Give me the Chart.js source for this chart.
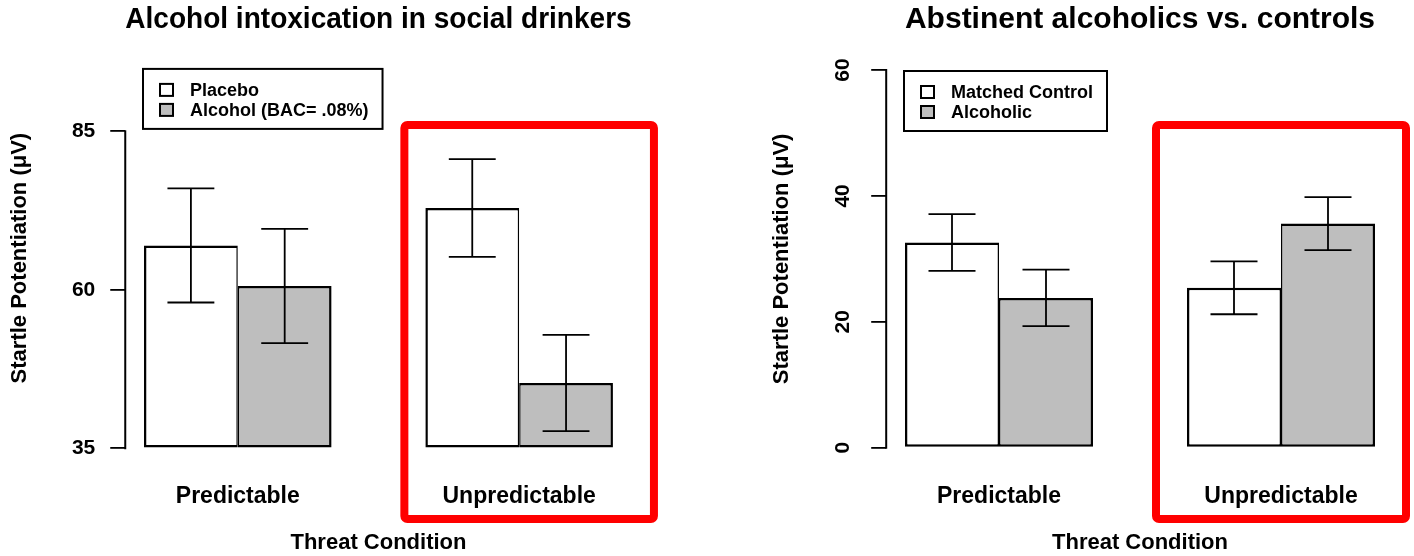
<!DOCTYPE html>
<html><head><meta charset="utf-8">
<script src="https://cdn.jsdelivr.net/npm/chart.js@4.4.1/dist/chart.umd.min.js"></script>
<style>
html,body{margin:0;padding:0;background:#fff;width:1414px;height:556px;overflow:hidden}
.wrap{position:absolute;top:0;width:707px;height:556px}
canvas{display:block}
</style></head><body>
<div class="wrap" style="left:0"><canvas id="c1" width="707" height="556"></canvas></div>
<div class="wrap" style="left:707px"><canvas id="c2" width="707" height="556"></canvas></div>
<script>
// ---------- data ----------
const categories = ['Predictable', 'Unpredictable'];
const xTitle = 'Threat Condition';
const yTitle = 'Startle Potentiation (\u03BCV)';

// Left panel
const titleLeft = 'Alcohol intoxication in social drinkers';
const seriesLeft = ['Placebo', 'Alcohol (BAC= .08%)'];
const placeboMean = [67.0, 72.9];
const placeboErr = [9.0, 7.7];
const alcoholMean = [60.6, 45.3];
const alcoholErr = [9.0, 7.6];
const yTicksLeft = [35, 60, 85];
const yRangeLeft = [35, 95];

// Right panel
const titleRight = 'Abstinent alcoholics vs. controls';
const seriesRight = ['Matched Control', 'Alcoholic'];
const controlMean = [32.6, 25.4];
const controlErr = [4.5, 4.2];
const alcoholicMean = [23.8, 35.6];
const alcoholicErr = [4.5, 4.2];
const yTicksRight = [0, 20, 40, 60];
const yRangeRight = [0, 60];

// ---------- style ----------
const FAM = '"Liberation Sans", Arial, Helvetica, sans-serif';
Chart.defaults.font.family = FAM;
Chart.defaults.color = '#000';
const fillColors = ['#ffffff', '#bebebe'];

const decor = {
  id: 'decor',
  afterDatasetsDraw(chart, args, opts) {
    const ctx = chart.ctx;
    const y = chart.scales.y;
    ctx.save();
    ctx.strokeStyle = '#000';
    // error bars
    ctx.lineWidth = 1.8;
    chart.data.datasets.forEach((ds, di) => {
      const meta = chart.getDatasetMeta(di);
      meta.data.forEach((bar, i) => {
        const v = ds.data[i].y, e = opts.errors[di][i];
        const yt = y.getPixelForValue(v + e), yb = y.getPixelForValue(v - e);
        const half = bar.width / 4;
        ctx.beginPath();
        ctx.moveTo(bar.x, yt); ctx.lineTo(bar.x, yb);
        ctx.moveTo(bar.x - half, yt); ctx.lineTo(bar.x + half, yt);
        ctx.moveTo(bar.x - half, yb); ctx.lineTo(bar.x + half, yb);
        ctx.stroke();
      });
    });
    // y axis line spanning first..last tick
    const t = y.ticks;
    ctx.lineWidth = 2;
    ctx.beginPath();
    ctx.moveTo(y.right, y.getPixelForValue(t[0].value) + 1);
    ctx.lineTo(y.right, y.getPixelForValue(t[t.length - 1].value) - 1);
    ctx.stroke();
    // legend box
    const first = chart.getDatasetMeta(0).data[0];
    const lx = first.x - first.width / 2 - 1;
    const ly = chart.chartArea.top + opts.legendTop;
    ctx.font = 'bold 18px ' + FAM;
    const tw = Math.max(...chart.data.datasets.map(d => ctx.measureText(d.label).width));
    const w = 47 + tw + 14, h = 60;
    ctx.lineWidth = 2;
    ctx.fillStyle = '#fff';
    ctx.fillRect(lx, ly, w, h);
    ctx.strokeRect(lx, ly, w, h);
    chart.data.datasets.forEach((ds, di) => {
      const cy = ly + 21 + di * 20;
      ctx.fillStyle = ds.backgroundColor;
      ctx.fillRect(lx + 17, cy - 6, 13, 12);
      ctx.strokeRect(lx + 17, cy - 6, 13, 12);
      ctx.fillStyle = '#000';
      ctx.textBaseline = 'middle';
      ctx.textAlign = 'left';
      ctx.fillText(ds.label, lx + 47, cy + 1);
    });
    ctx.restore();
  },
  afterDraw(chart, args, opts) {
    const hb = opts.highlight;
    const ctx = chart.ctx;
    const n = chart.data.datasets.length;
    const a = chart.getDatasetMeta(0).data[hb.index];
    const b = chart.getDatasetMeta(n - 1).data[hb.index];
    const x0 = a.x - a.width / 2 - hb.padLeft;
    const x1 = b.x + b.width / 2 + hb.padRight;
    ctx.save();
    ctx.strokeStyle = '#ff0000';
    ctx.lineWidth = 8;
    ctx.lineJoin = 'round';
    ctx.beginPath();
    ctx.roundRect(x0, hb.top, x1 - x0, hb.bottom - hb.top, 3);
    ctx.stroke();
    ctx.restore();
  }
};

function makeDatasets(labels, means) {
  const widths = [
    {top: 2.5, left: 2.5, bottom: 2.5, right: 1.5},
    {top: 2.5, left: 1.5, bottom: 2.5, right: 2.5}
  ];
  return labels.map((lab, di) => ({
    label: lab,
    data: means[di].map((v, i) => ({x: i, y: v})),
    backgroundColor: fillColors[di],
    borderColor: '#000',
    borderWidth: widths[di],
    borderSkipped: false,
    categoryPercentage: 2 / 3,
    barPercentage: 1,
    clip: false
  }));
}

function makeChart(id, p) {
  const dss = makeDatasets(p.series, p.means);
  dss.forEach(d => d.base = p.yRange[0]);
  return new Chart(document.getElementById(id), {
    type: 'bar',
    data: { datasets: dss },
    plugins: [decor],
    options: {
      responsive: false,
      animation: false,
      devicePixelRatio: 1,
      events: [],
      layout: { padding: { left: 0, right: p.padRight, top: 0, bottom: 0 } },
      scales: {
        x: {
          type: 'linear',
          offset: false,
          min: -0.4, max: 1.4,
          afterBuildTicks: s => { s.ticks = categories.map((c, i) => ({ value: i })); },
          afterFit: s => { s.height = p.xAxisHeight; },
          grid: { display: false, offset: false },
          border: { display: false },
          ticks: {
            color: '#000', autoSkip: false, maxRotation: 0, minRotation: 0,
            font: { size: 23, weight: 'bold' }, padding: 27,
            callback: v => categories[v]
          },
          title: { display: true, text: xTitle, color: '#000',
                   font: { size: 22, weight: 'bold', lineHeight: 1.2 }, padding: { top: 0, bottom: 0 } }
        },
        y: {
          min: p.yRange[0], max: p.yRange[1],
          afterBuildTicks: s => { s.ticks = p.yTicks.map(v => ({ value: v })); },
          afterFit: s => { s.width = p.yAxisWidth; },
          grid: { drawOnChartArea: false, drawTicks: true, tickLength: 15, color: '#000', lineWidth: 1.8 },
          border: { display: false },
          ticks: {
            color: '#000', font: { size: 21, weight: 'bold' }, padding: p.tickPad,
            minRotation: p.tickRot, maxRotation: p.tickRot,
            crossAlign: p.tickRot ? 'center' : 'near'
          },
          title: { display: true, text: yTitle, color: '#000',
                   font: { size: 22, weight: 'bold', lineHeight: 1.2 }, padding: { top: p.yTitlePad, bottom: 0 } }
        }
      },
      plugins: {
        legend: { display: false },
        tooltip: { enabled: false },
        title: {
          display: true, text: p.title, color: '#000', fullSize: false,
          font: { size: 30, weight: 'bold', lineHeight: 1.2 },
          padding: { top: 2, bottom: p.titleBottom }
        },
        decor: {
          errors: p.errors,
          legendTop: 1,
          highlight: p.highlight
        }
      }
    }
  });
}

makeChart('c1', {
  title: titleLeft, series: seriesLeft,
  means: [placeboMean, alcoholMean], errors: [placeboErr, alcoholErr],
  yTicks: yTicksLeft, yRange: yRangeLeft,
  padRight: 75.3, yAxisWidth: 125.25, xAxisHeight: 107.7, titleBottom: 29.9,
  tickPad: 15, tickRot: 0, yTitlePad: 7,
  highlight: { index: 1, padLeft: 21, padRight: 41, top: 125, bottom: 519 }
});

makeChart('c2', {
  title: titleRight, series: seriesRight,
  means: [controlMean, alcoholicMean], errors: [controlErr, alcoholicErr],
  yTicks: yTicksRight, yRange: yRangeRight,
  padRight: 20.2, yAxisWidth: 179.2, xAxisHeight: 108.3, titleBottom: 32,
  tickPad: 16, tickRot: 90, yTitlePad: 62,
  highlight: { index: 1, padLeft: 31, padRight: 31, top: 125, bottom: 519 }
});
</script>
</body></html>
